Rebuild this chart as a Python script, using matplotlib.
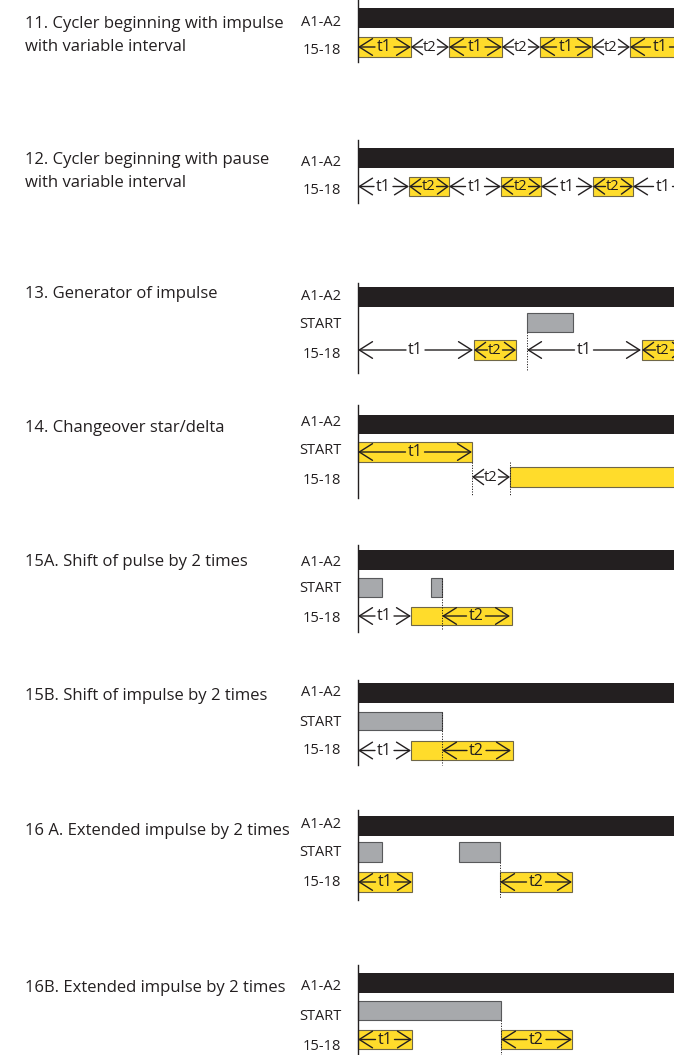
import matplotlib
matplotlib.use('Agg')
import matplotlib.pyplot as plt
from matplotlib.patches import Rectangle, FancyArrowPatch

plt.rcParams['font.family'] = ['Open Sans', 'DejaVu Sans']

# ---------------- data (time units along each timeline) ----------------
titles = [
    ["11. Cycler beginning with impulse", "with variable interval"],
    ["12. Cycler beginning with pause", "with variable interval"],
    ["13. Generator of impulse"],
    ["14. Changeover star/delta"],
    ["15A. Shift of pulse by 2 times"],
    ["15B. Shift of impulse by 2 times"],
    ["16 A. Extended impulse by 2 times"],
    ["16B. Extended impulse by 2 times"],
]
signal_names = ["A1-A2", "START", "15-18"]

# yellow output pulses (start, duration) on 15-18
out_11 = [(0, 53), (91, 53), (182, 52), (272, 60)]
out_12 = [(51, 40), (143, 40), (235, 40)]
out_13 = [(116, 42), (284, 42)]
out_14 = [(152, 170)]
out_15a = [(53, 101)]
out_15b = [(53, 102)]
out_16a = [(0, 54), (142, 72)]
out_16b = [(0, 54), (143, 71)]

# START pulses (start, duration)
start_13 = [(169, 46)]
start_14 = [(0, 114)]  # yellow
start_15a = [(0, 24), (73, 11)]
start_15b = [(0, 84)]
start_16a = [(0, 24), (101, 41)]
start_16b = [(0, 143)]

# timing arrows (t_from, t_to, label)
arr_11 = [(0, 53, "t1"), (53, 91, "t2"), (91, 144, "t1"), (144, 182, "t2"),
          (182, 234, "t1"), (234, 272, "t2"), (272, 332, "t1")]
arr_12 = [(0, 51, "t1"), (51, 91, "t2"), (91, 143, "t1"), (143, 183, "t2"),
          (183, 235, "t1"), (235, 275, "t2"), (275, 335, "t1")]
arr_13 = [(0, 115, "t1"), (116, 158, "t2"), (169, 283, "t1"), (284, 326, "t2")]
arr_14_start = [(0, 114, "t1")]
arr_14 = [(114, 152, "t2")]
arr_15a = [(0, 53, "t1"), (84, 152, "t2")]
arr_15b = [(0, 53, "t1"), (84, 153, "t2")]
arr_16a = [(0, 54, "t1"), (142, 214, "t2")]
arr_16b = [(0, 54, "t1"), (143, 214, "t2")]

dots_13 = [169]
dots_14 = [114, 152]
dots_15a = [84]
dots_15b = [84]
dots_16a = [142]
dots_16b = [143]

# ---------------- styles / layout ----------------
W, H = 674, 1055
T0 = 358
BLACK = '#231f20'
YELLOW = '#ffdc2b'
YEDGE = '#6f6748'
GREY = '#a7a9ac'
GEDGE = '#58595b'

fig = plt.figure(figsize=(W / 100, H / 100), dpi=100)
ax = fig.add_axes([0, 0, 1, 1])
ax.set_xlim(0, W)
ax.set_ylim(H, 0)
ax.axis('off')


def bar(t, d, y0, y1, fc, ec, lw=0.8):
    ax.add_patch(Rectangle((T0 + t, y0), d, y1 - y0, fc=fc, ec=ec, lw=lw, zorder=2))


def half(xa, xb, y, hl, hw):
    p = FancyArrowPatch((xa, y), (xb, y),
                        arrowstyle='->,head_length=%g,head_width=%g' % (hl, hw),
                        mutation_scale=10, lw=1.0, color=BLACK,
                        shrinkA=0, shrinkB=0, zorder=3)
    ax.add_patch(p)


def tarrow(t0, t1, y, label, small):
    hl, hw = (0.75, 0.55) if small else (0.95, 0.6)
    fs = 10.5 if small else 11.5
    g = 7.5 if small else 9.5
    xc = T0 + (t0 + t1) / 2
    half(xc - g, T0 + t0, y, hl, hw)
    half(xc + g, T0 + t1, y, hl, hw)
    ax.text(xc, y + 0.3, label, ha='center', va='center',
            fontsize=fs, color=BLACK, zorder=4, clip_on=True)


def dotted(t, y0, y1):
    ax.plot([T0 + t, T0 + t], [y0, y1], color=BLACK, lw=0.7,
            ls=(0, (1.2, 1.5)), zorder=5)


def section(lines, title_y, axis, a1, start, out, labels_y,
            outs=(), starts=(), start_yellow=False,
            arrows=(), start_arrows=(), dots=(), dot_end=None):
    for i, ln in enumerate(lines):
        ax.text(25, title_y + 23 * i, ln, ha='left', va='baseline', fontsize=12,
                color=BLACK)
    ax.plot([T0, T0], axis, color=BLACK, lw=1.0, zorder=6)
    ax.add_patch(Rectangle((T0, a1[0]), W - T0 + 5, a1[1] - a1[0],
                           fc=BLACK, ec='none', zorder=2))
    names = signal_names if start is not None else [signal_names[0], signal_names[2]]
    for nm, ly in zip(names, labels_y):
        ax.text(341, ly, nm, ha='right', va='center', fontsize=10.5, color=BLACK)
    for (t, d) in starts:
        if start_yellow:
            bar(t, d, start[0], start[1], YELLOW, YEDGE)
        else:
            bar(t, d, start[0], start[1], GREY, GEDGE)
    for (t, d) in outs:
        bar(t, d, out[0], out[1], YELLOW, YEDGE)
    yc = (out[0] + out[1]) / 2
    for (a, b, lab) in arrows:
        tarrow(a, b, yc, lab, (b - a) < 45)
    if start is not None:
        ys = (start[0] + start[1]) / 2
        for (a, b, lab) in start_arrows:
            tarrow(a, b, ys, lab, (b - a) < 45)
    for t in dots:
        dotted(t, dot_end[0], dot_end[1])


section(titles[0], 28, (0, 62), (8, 28), None, (37, 57), (22, 50), outs=out_11, arrows=arr_11)
section(titles[1], 164, (140, 203), (148, 168), None, (177, 196), (162, 190), outs=out_12, arrows=arr_12)
section(titles[2], 298, (283, 373), (287, 307), (313, 332), (340, 360), (296, 324, 355),
        outs=out_13, starts=start_13, arrows=arr_13, dots=dots_13, dot_end=(332, 370))
section(titles[3], 432, (405, 498), (415, 434), (442, 462), (467, 487), (422, 451, 481),
        outs=out_14, starts=start_14, start_yellow=True, arrows=arr_14,
        start_arrows=arr_14_start, dots=dots_14, dot_end=(462, 495))
section(titles[4], 566, (545, 632), (550, 570), (578, 597), (607, 625), (562, 589, 619),
        outs=out_15a, starts=start_15a, arrows=arr_15a, dots=dots_15a, dot_end=(578, 630))
section(titles[5], 700, (680, 765), (683, 703), (712, 730), (741, 760), (692, 722, 750),
        outs=out_15b, starts=start_15b, arrows=arr_15b, dots=dots_15b, dot_end=(712, 765))
section(titles[6], 835, (810, 900), (816, 836), (842, 862), (872, 892), (825, 853, 882),
        outs=out_16a, starts=start_16a, arrows=arr_16a, dots=dots_16a, dot_end=(862, 898))
section(titles[7], 992, (965, 1055), (973, 993), (1001, 1020), (1030, 1049), (987, 1016, 1046),
        outs=out_16b, starts=start_16b, arrows=arr_16b, dots=dots_16b, dot_end=(1020, 1055))

fig.savefig('out.png', dpi=100)
